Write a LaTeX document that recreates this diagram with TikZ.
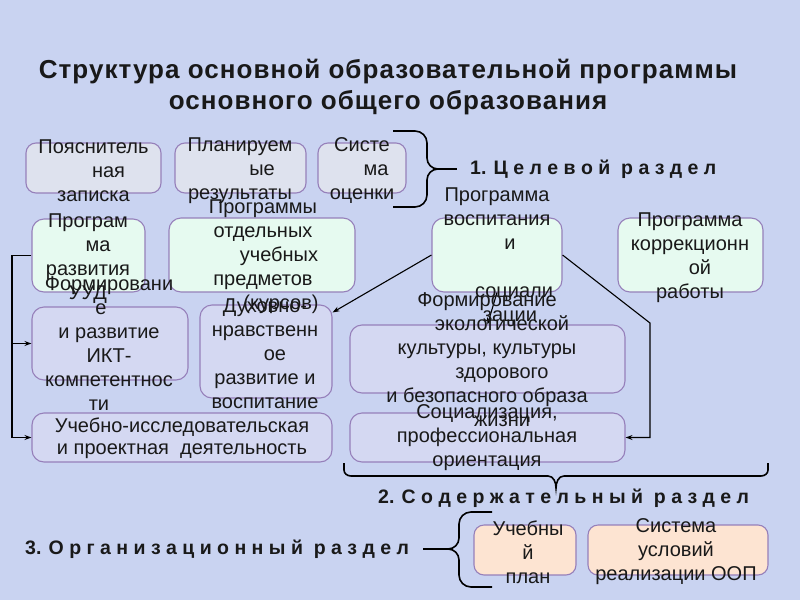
\documentclass[tikz,border=0pt]{standalone}
\usepackage{fontspec}
\setmainfont{Liberation Sans}
\newfontfamily\titlefont[LetterSpace=4]{Liberation Sans}
\usetikzlibrary{arrows.meta,calc}
\definecolor{bgc}{RGB}{201,211,241}
\definecolor{bord}{RGB}{150,128,186}
\definecolor{fa}{RGB}{222,226,238}
\definecolor{fb}{RGB}{230,250,240}
\definecolor{fc}{RGB}{212,216,242}
\definecolor{fd}{RGB}{253,228,210}
\definecolor{tc}{RGB}{25,25,25}
\newcommand\Lx[2]{\makebox[0pt]{\hspace*{#1pt}#2}}
\begin{document}
\begin{tikzpicture}[x=1pt,y=-1pt,
  box/.style={draw=bord, line width=1.1pt, rounded corners=10pt, inner sep=0pt},
  ga/.style={box, fill=fa},
  gb/.style={box, fill=fb, rounded corners=12pt},
  gc/.style={box, fill=fc, rounded corners=12pt},
  gd/.style={box, fill=fd},
  txt/.style={align=center, font=\fontsize{20}{24}\selectfont, inner sep=0pt, text=tc},
  ttl/.style={align=center, font=\titlefont\fontsize{26}{31}\selectfont\bfseries, inner sep=0pt, text=tc},
  lab/.style={font=\fontsize{19.5}{22}\selectfont\bfseries, anchor=west, inner sep=0pt, text=tc},
  arr/.style={-{Stealth[length=7pt,width=5pt]}, line width=1.1pt},
  brc/.style={line width=1.6pt}]
\fill[bgc] (0,0) rectangle (800,600);
\useasboundingbox (0,0) rectangle (800,600);

% title
\node[ttl] (title) at (388,87.5) {Структура основной образовательной программы\\основного общего образования};

% boxes
\node[ga, minimum width=135pt, minimum height=50pt] (b1) at (93.5,168) {};
\node[ga, minimum width=131pt, minimum height=50pt] (b2) at (240.5,168) {};
\node[ga, minimum width=88pt, minimum height=50pt] (b3) at (362,168) {};
\node[gb, minimum width=113pt, minimum height=73pt] (b4) at (88.5,255.5) {};
\node[gb, minimum width=186pt, minimum height=74pt] (b5) at (262,255) {};
\node[gb, minimum width=130pt, minimum height=74pt] (b6) at (497,255) {};
\node[gb, minimum width=145pt, minimum height=74pt] (b7) at (690.5,255) {};
\node[gc, minimum width=156pt, minimum height=73pt] (b8) at (110,343.5) {};
\node[gc, minimum width=132pt, minimum height=93pt] (b9) at (266,351.5) {};
\node[gc, minimum width=275pt, minimum height=68pt] (b10) at (487.5,359) {};
\node[gc, minimum width=275pt, minimum height=49pt] (b11) at (487.5,437.5) {};
\node[gc, minimum width=300pt, minimum height=49pt] (b12) at (182,437.5) {};
\node[gd, minimum width=102pt, minimum height=50pt] (b13) at (525,550) {};
\node[gd, minimum width=180pt, minimum height=50pt] (b14) at (678,550) {};

% connectors
\coordinate (busT) at (12,255.5);
\coordinate (busB) at (busT |- b12.west);
\coordinate (busM) at (busT |- b8.west);
\draw[arr] (b4.west) -- (busT) -- (busB) -- (b12.west);
\draw[arr] (busM) -- (b8.west);
\draw[arr] (b6.west) -- ($(b9.north east)+(0,8)$);
\draw[arr] (b6.south) -- (b10.north);
\coordinate (rb1) at (650,323);
\coordinate (rb2) at (rb1 |- b11.east);
\draw[arr] (b6.east) -- (rb1) -- (rb2) -- (b11.east);

% braces
\draw[brc] (393,131) -- (415,131) to[out=0,in=90] (427,143) -- (427,158)
  to[out=-90,in=180] (438,169) to[out=180,in=90] (427,180) -- (427,195)
  to[out=-90,in=0] (415,207) -- (393,207);
\draw[brc] (438,169) -- (457,169);
\draw[brc] (344,463) -- (344,470) to[out=-90,in=180] (351,476) -- (548,476)
  to[out=0,in=90] (556,488) to[out=90,in=180] (564,476) -- (761,476)
  to[out=0,in=-90] (768,470) -- (768,463);
\draw[brc] (492,512) -- (471,512) to[out=180,in=90] (459,524) -- (459,538)
  to[out=-90,in=0] (448,549) to[out=0,in=90] (459,560) -- (459,575)
  to[out=-90,in=180] (471,587) -- (492,587);
\draw[brc] (423,549) -- (448,549);

% section labels
\node[lab] (s1) at (470,169) {1. Ц е л е в о й \ р а з д е л};
\node[lab] (s2) at (378,498) {2. С о д е р ж а т е л ь н ы й \ р а з д е л};
\node[lab] (s3) at (25,549) {3. О р г а н и з а ц и о н н ы й \ р а з д е л};

% texts
\node[txt] (t1) at (93.5,171) {Пояснитель\\\Lx{30}{ная}\\записка};
\node[txt] (t2) at (240,171) {Планируем\\\Lx{44}{ые}\\результаты};
\node[txt] (t3) at (362,171) {Систе\\\Lx{28}{ма}\\оценки};
\node[txt] (t4) at (88,259) {Програм\\\Lx{20}{ма}\\развития\\УУД};
\node[txt] (t5) at (263,257) {Программы\\отдельных\\\Lx{32}{учебных}\\предметов\\\Lx{36}{(курсов)}};
\node[txt] (t6) at (497,257) {Программа\\воспитания\\\Lx{26}{и}\\\mbox{}\\\Lx{34}{социали}\\\Lx{26}{зации}};
\node[txt] (t7) at (690,258) {Программа\\коррекционн\\\Lx{20}{ой}\\работы};
\node[txt] (t8) at (109,344) {Формировани\\\Lx{-16}{е}\\и развитие\\ИКТ-\\компетентнос\\\Lx{-20}{ти}};
\node[txt] (t9) at (265,354) {Духовно-\\нравственн\\\Lx{20}{ое}\\развитие и\\воспитание};
\node[txt] (t10) at (487,360) {Формирование\\\Lx{30}{экологической}\\культуры, культуры\\\Lx{30}{здорового}\\и безопасного образа\\\Lx{30}{жизни}};
\node[txt] (t11) at (487,438) {Социализация,\\профессиональная\\ориентация};
\node[txt, font=\fontsize{20}{22.5}\selectfont] (t12) at (182,438) {Учебно-исследовательская\\и проектная \ деятельность};
\node[txt] (t13) at (528,552) {Учебны\\й\\план};
\node[txt] (t14) at (676,552) {Система\\условий\\реализации ООП};
\end{tikzpicture}
\end{document}
